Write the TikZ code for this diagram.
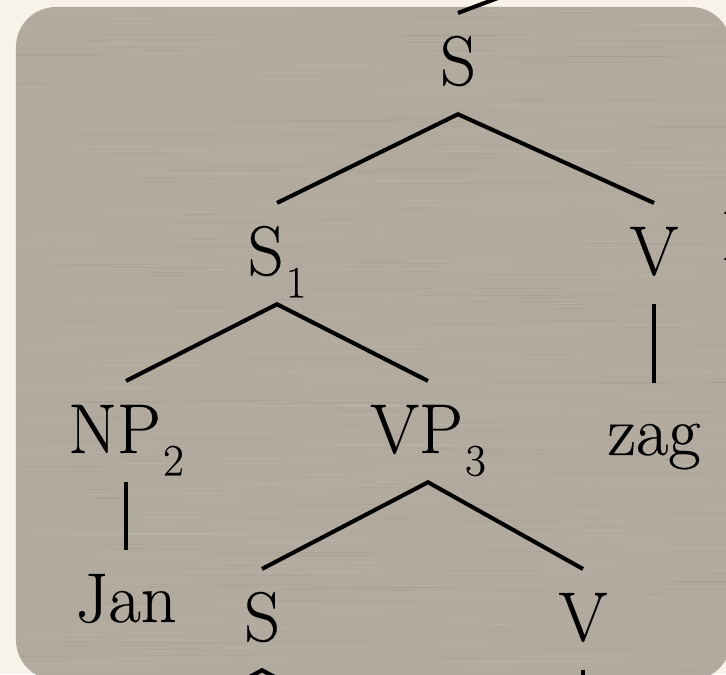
\documentclass[tikz,border=0pt]{standalone}
\usepackage{fontspec}
\usepackage{amsmath}

\newfontfamily\treefont{Latin Modern Roman}[UprightFeatures={FakeBold=0.35}]
\definecolor{paper}{HTML}{F7F3E8}
\definecolor{linen}{HTML}{B2AA9E}
\newcommand{\tree}{\treefont\fontsize{50}{60}\selectfont}
\newcommand{\idx}[1]{\hspace{1.5pt}\raisebox{-16pt}{\fontsize{32}{32}\selectfont #1}}

\begin{document}
\begin{tikzpicture}
        [line width=2.9pt,every node/.style={font=\tree,anchor=base,text height=1.2cm,text depth=.13cm,inner xsep=0pt,inner ysep=.55cm}]
        \useasboundingbox (0,0) rectangle (18.15,16.85);
        \fill[paper] (0,0) rectangle (18.15,16.85);
        \fill[linen,rounded corners=1cm] (0.4,-0.15) rectangle (18.275,16.675);

        % faint streaks on the panel
        \begin{scope}
                \clip[rounded corners=1cm] (0.4,-0.15) rectangle (18.275,16.675);
                \pgfmathsetseed{11}
                \foreach \k in {1,...,300}
                        \draw[line width=.6pt,white,opacity=.06] (rnd*18,rnd*17) -- ++(.5+rnd*4,0);
                \foreach \k in {1,...,200}
                        \draw[line width=.6pt,black,opacity=.03] (rnd*18,rnd*17) -- ++(.5+rnd*4,0);
        \end{scope}

        \node (s0) at (11.45,14.725) {S};
        \node (s1) at (6.925,9.975) {S\idx{1}};
        \node (v0) at (16.35,9.975) {V};
        \node (np) at (3.15,5.525) {NP\idx{2}};
        \node (vp) at (10.7,5.525) {VP\idx{3}};
        \node (zag) at (16.35,5.475) {zag};
        \node (jan) at (3.15,1.3) {Jan};
        \node (s2) at (6.55,0.825) {S};
        \node (v1) at (14.575,0.825) {V};
        \node[anchor=base west] (nx) at (17.975,10.35) {N};

        % ends that run off the page
        \coordinate (up) at (18.0,18.98);
        \coordinate (l2) at (2.3,-2.175);
        \coordinate (r2) at (10.8,-2.175);
        \coordinate (d1) at (14.575,-2.175);

        \draw (up) -- (s0.north);
        \draw (s1.north) -- (s0.south) -- (v0.north);
        \draw (np.north) -- (s1.south) -- (vp.north);
        \draw (v0.south) -- (zag.north);
        \draw (np.south) -- (jan.north);
        \draw (s2.north) -- (vp.south) -- (v1.north);
        \draw (l2) -- (s2.south) -- (r2);
        \draw (v1.south) -- (d1);
    \end{tikzpicture}
\end{document}
